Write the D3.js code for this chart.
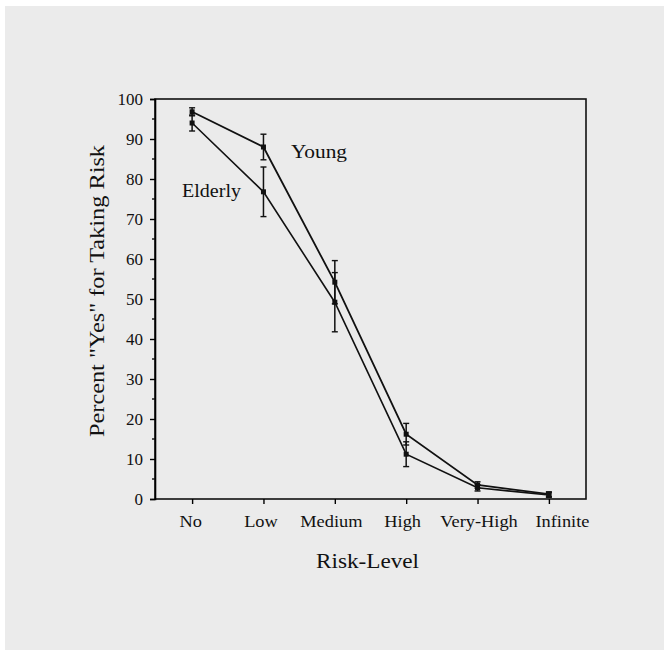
<!DOCTYPE html>
<html>
<head>
<meta charset="utf-8">
<script src="https://cdn.jsdelivr.net/npm/d3@7"></script>
<style>
  body { margin: 0; background: #ffffff; }
  svg text { font-family: "Liberation Serif", "DejaVu Serif", serif; fill: #111; }
</style>
</head>
<body>
<div id="chart"></div>
<script>
var width = 664;
var height = 651;

// data
var levels = ['No', 'Low', 'Medium', 'High', 'Very-High', 'Infinite'];
var young = [96.8, 88, 54.2, 16.2, 3.5, 1.2];
var youngErr = [1, 3.2, 5.4, 2.7, 0.8, 0.6];
var elderly = [94, 76.8, 49.2, 11.2, 2.8, 1];
var elderlyErr = [2, 6.2, 7.4, 3.1, 0.8, 0.6];
var yTicks = [0, 10, 20, 30, 40, 50, 60, 70, 80, 90, 100];

var plotLeft = 155, plotRight = 586, plotTop = 99, plotBottom = 499;
// labels in the original are not quite centred under their ticks
var labelShift = [-2, -3, -4, -4, 1, 13];

var svg = d3.select('#chart')
  .append('svg')
  .attr('width', width)
  .attr('height', height);

svg.append('rect')
  .attr('x', 5).attr('y', 6)
  .attr('width', width - 5).attr('height', height - 7)
  .attr('fill', '#ebebeb');

var xScale = d3.scalePoint()
  .domain(levels)
  .range([plotLeft, plotRight])
  .padding(0.52);

var yScale = d3.scaleLinear()
  .domain([0, 100])
  .range([plotBottom, plotTop]);

// frame
svg.append('rect')
  .attr('x', plotLeft).attr('y', plotTop)
  .attr('width', plotRight - plotLeft).attr('height', plotBottom - plotTop)
  .attr('fill', 'none')
  .attr('stroke', '#111')
  .attr('stroke-width', 1.6);

// y axis with minor ticks
var yAxis = d3.axisLeft(yScale).tickValues(yTicks).tickSize(5).tickPadding(7);
var gy = svg.append('g')
  .attr('transform', 'translate(' + plotLeft + ',0)')
  .call(yAxis);
gy.select('.domain').attr('stroke-width', 1.6);
gy.selectAll('.tick line').attr('stroke-width', 1.4);
gy.selectAll('text').attr('font-size', 17).attr('font-family', null);

var minor = d3.range(5, 100, 10);
svg.append('g').selectAll('line')
  .data(minor)
  .enter()
  .append('line')
  .attr('x1', plotLeft - 3).attr('x2', plotLeft)
  .attr('y1', d => yScale(d)).attr('y2', d => yScale(d))
  .attr('stroke', '#111')
  .attr('stroke-width', 1.4);

// x axis
var xAxis = d3.axisBottom(xScale).tickSize(5).tickPadding(11);
var gx = svg.append('g')
  .attr('transform', 'translate(0,' + plotBottom + ')')
  .call(xAxis);
gx.select('.domain').remove();
gx.selectAll('.tick line').attr('stroke-width', 1.4);
gx.selectAll('text').attr('font-size', 17).attr('font-family', null)
  .attr('x', (d, i) => labelShift[i])
  .attr('textLength', function() { return this.getComputedTextLength() * 1.08; })
  .attr('lengthAdjust', 'spacingAndGlyphs');

// axis titles
svg.append('text')
  .attr('x', (plotLeft + plotRight) / 2 - 3)
  .attr('y', 568)
  .attr('text-anchor', 'middle')
  .attr('font-size', 22)
  .attr('textLength', 103)
  .attr('lengthAdjust', 'spacingAndGlyphs')
  .text('Risk-Level');

svg.append('text')
  .attr('transform', 'translate(104,' + ((plotTop + plotBottom) / 2 - 8) + ') rotate(-90)')
  .attr('text-anchor', 'middle')
  .attr('font-size', 21)
  .attr('textLength', 292)
  .attr('lengthAdjust', 'spacingAndGlyphs')
  .text('Percent "Yes" for Taking Risk');

// series
var line = d3.line()
  .x((d, i) => xScale(levels[i]))
  .y(d => yScale(d));

var drawSeries = (vals, errs, lw) => {
  var g = svg.append('g');
  g.append('path')
    .datum(vals)
    .attr('d', line)
    .attr('fill', 'none')
    .attr('stroke', '#111')
    .attr('stroke-width', lw);

  var bars = g.selectAll('.err')
    .data(vals)
    .enter()
    .append('g')
    .attr('class', 'err');
  bars.append('line')
    .attr('x1', (d, i) => xScale(levels[i])).attr('x2', (d, i) => xScale(levels[i]))
    .attr('y1', (d, i) => yScale(d + errs[i])).attr('y2', (d, i) => yScale(d - errs[i]))
    .attr('stroke', '#111').attr('stroke-width', 1.5);
  [1, -1].forEach(s => {
    bars.append('line')
      .attr('x1', (d, i) => xScale(levels[i]) - 3).attr('x2', (d, i) => xScale(levels[i]) + 3)
      .attr('y1', (d, i) => yScale(d + s * errs[i])).attr('y2', (d, i) => yScale(d + s * errs[i]))
      .attr('stroke', '#111').attr('stroke-width', 1.4);
  });

  g.selectAll('.dot')
    .data(vals)
    .enter()
    .append('rect')
    .attr('class', 'dot')
    .attr('x', (d, i) => xScale(levels[i]) - 2.5)
    .attr('y', d => yScale(d) - 2.5)
    .attr('width', 5).attr('height', 5)
    .attr('fill', '#111');
};

drawSeries(elderly, elderlyErr, 1.6);
drawSeries(young, youngErr, 1.8);

svg.append('text')
  .attr('x', 291).attr('y', 158)
  .attr('font-size', 19)
  .attr('textLength', 56)
  .attr('lengthAdjust', 'spacingAndGlyphs')
  .text('Young');

svg.append('text')
  .attr('x', 182).attr('y', 197)
  .attr('font-size', 19)
  .attr('textLength', 59)
  .attr('lengthAdjust', 'spacingAndGlyphs')
  .text('Elderly');
</script>
</body>
</html>
